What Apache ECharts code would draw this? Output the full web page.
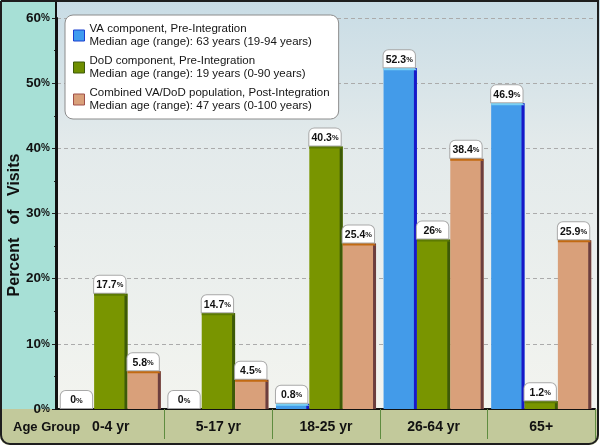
<!DOCTYPE html>
<html>
<head>
<meta charset="utf-8">
<script src="https://cdn.jsdelivr.net/npm/echarts@6/dist/echarts.min.js"></script>
<style>
  html, body { margin: 0; padding: 0; background: #fff; }
  #chart { width: 600px; height: 446px; }
</style>
</head>
<body>
<div id="chart"></div>
<script>
// age groups along the x axis
var ageGroups = ["0-4 yr", "5-17 yr", "18-25 yr", "26-64 yr", "65+"];
// percent of visits per component
var vaValues = [0, 0, 0.8, 52.3, 46.9];
var dodValues = [17.7, 14.7, 40.3, 26, 1.2];
var combinedValues = [5.8, 4.5, 25.4, 38.4, 25.9];
var seriesNames = [
  "VA component, Pre-Integration",
  "DoD component, Pre-Integration",
  "Combined VA/DoD population, Post-Integration"
];
var medianLines = [
  "Median age (range): 63 years (19-94 years)",
  "Median age (range): 19 years (0-90 years)",
  "Median age (range): 47 years (0-100 years)"
];
var yTicks = [0, 10, 20, 30, 40, 50, 60];

var FONT = "Liberation Sans";
var palette = [
  { body: "#439be9", edge: "#1818c8", cap: "#78d0f5", icon: "#3f9cf0", iconBorder: "#1a3fd0" },
  { body: "#799500", edge: "#3d5a08", cap: "#5d7b02", icon: "#6f8f00", iconBorder: "#3d5a08" },
  { body: "#d9a07a", edge: "#6c3e3e", cap: "#c26a12", icon: "#d9a07a", iconBorder: "#a0504a" }
];

var chart = echarts.init(document.getElementById("chart"), null, { renderer: "canvas" });

// bar with a dark right edge and a top cap, label box sitting on top
function makeRender(slot) {
  var c = palette[slot];
  return function (params, api) {
    var val = api.value(1);
    var base = api.coord([api.value(0), 0]);
    var top = api.coord([api.value(0), val]);
    var band = api.size([1, 0])[0];
    var w = band * 0.31;
    var x = base[0] - 1.5 * w + slot * w;
    var t = top[1];
    var h = base[1] - t;
    var kids = [];
    if (h > 0) {
      kids.push({ type: "rect", shape: { x: x, y: t, width: w, height: h }, style: { fill: c.body } });
      kids.push({ type: "rect", shape: { x: x + w - 3, y: t, width: 3, height: h }, style: { fill: c.edge } });
      kids.push({
        type: "polygon",
        shape: { points: [[x, t - 1], [x + w - 3, t - 1], [x + w, t + 2], [x, t + 2]] },
        style: { fill: c.cap }
      });
    }
    kids.push({
      type: "text",
      x: x + w / 2 - 1,
      y: t - 1,
      z2: 10,
      style: {
        text: "{v|" + val + "}{p|%}",
        align: "center",
        verticalAlign: "bottom",
        width: w - 8,
        backgroundColor: "#fff",
        borderColor: "#a8a8a8",
        borderWidth: 1,
        borderRadius: [5, 5, 0, 0],
        padding: [4, 3, 2, 3],
        rich: {
          v: { fontFamily: FONT, fontWeight: "bold", fontSize: 10.5, fill: "#111", align: "center" },
          p: { fontFamily: FONT, fontWeight: "bold", fontSize: 7.5, fill: "#111", align: "center" }
        }
      }
    });
    return { type: "group", children: kids };
  };
}

function toData(arr) {
  return arr.map(function (v, i) { return [i, v]; });
}

var allValues = [vaValues, dodValues, combinedValues];
var series = seriesNames.map(function (name, i) {
  return {
    name: name,
    type: "custom",
    renderItem: makeRender(i),
    clip: false,
    itemStyle: { color: palette[i].icon },
    encode: { x: 0, y: 1 },
    data: toData(allValues[i])
  };
});

var option = {
  animation: false,
  textStyle: { fontFamily: FONT },
  grid: { left: 57, right: 5, top: 18, bottom: 37 },
  legend: {
    orient: "vertical",
    left: 65,
    top: 15,
    padding: [7, 9, 6, 8],
    itemGap: 5,
    itemWidth: 11,
    itemHeight: 11,
    itemTextGap: 6,
    backgroundColor: "#fff",
    borderColor: "#8c8c8c",
    borderWidth: 1,
    borderRadius: 8,
    data: seriesNames.map(function (n, i) {
      return {
        name: n,
        icon: "rect",
        itemStyle: { color: palette[i].icon, borderColor: palette[i].iconBorder, borderWidth: 1 }
      };
    }),
    formatter: function (name) {
      return name + "\n" + medianLines[seriesNames.indexOf(name)];
    },
    textStyle: { fontFamily: FONT, fontSize: 11.5, color: "#151515", lineHeight: 13.5 }
  },
  xAxis: {
    type: "category",
    data: ageGroups,
    axisLine: { lineStyle: { color: "#111", width: 2 } },
    axisTick: {
      show: true,
      interval: function (i) { return i > 0; },
      length: 30,
      lineStyle: { color: "#5f8c40", width: 1 }
    },
    axisLabel: { margin: 11, fontFamily: FONT, fontWeight: "bold", fontSize: 14, color: "#111" },
    splitLine: { show: false }
  },
  yAxis: {
    type: "value",
    min: yTicks[0],
    max: yTicks[yTicks.length - 1],
    interval: 10,
    axisLine: { show: true, lineStyle: { color: "#111", width: 2 } },
    axisTick: { show: true, length: 5, lineStyle: { color: "#222" } },
    minorTick: { show: true, splitNumber: 2, length: 3, lineStyle: { color: "#222" } },
    axisLabel: {
      margin: 7,
      formatter: function (v) { return "{n|" + v + "}{p|%}"; },
      rich: {
        n: { fontFamily: FONT, fontWeight: "bold", fontSize: 13.5, color: "#111" },
        p: { fontFamily: FONT, fontWeight: "bold", fontSize: 10, color: "#111" }
      }
    },
    splitLine: { show: true, lineStyle: { color: "#ababab", type: [4, 3], width: 1 } }
  },
  graphic: [
    {
      type: "rect", z: -10, silent: true,
      shape: { x: 57, y: 0, width: 543, height: 410 },
      style: {
        fill: new echarts.graphic.LinearGradient(0, 0, 0, 1, [
          { offset: 0, color: "#c8dce5" },
          { offset: 0.35, color: "#e3eaeb" },
          { offset: 1, color: "#f3f4ef" }
        ])
      }
    },
    { type: "rect", z: -10, silent: true, shape: { x: 0, y: 0, width: 56, height: 410 }, style: { fill: "#a7e0d6" } },
    {
      type: "rect", z: -10, silent: true,
      shape: { x: 0, y: 409, width: 599, height: 36, r: [0, 0, 9, 9] },
      style: { fill: "#c2c99b" }
    },
    {
      type: "line", z: 50, silent: true,
      shape: { x1: 56, y1: 0, x2: 56, y2: 410 },
      style: { stroke: "#111", lineWidth: 2 }
    },
    {
      type: "text", z: 50, silent: true,
      x: 13, y: 427,
      style: { text: "Age Group", font: "bold 13px '" + FONT + "'", fill: "#111", verticalAlign: "middle" }
    },
    {
      type: "text", z: 50, silent: true,
      x: 15, y: 225, rotation: Math.PI / 2,
      style: {
        text: "Percent   of   Visits",
        font: "bold 16px '" + FONT + "'",
        fill: "#111", align: "center", verticalAlign: "middle"
      }
    },
    {
      type: "rect", z: 100, silent: true,
      shape: { x: 1, y: 1, width: 597, height: 443, r: [0, 0, 9, 9] },
      style: { fill: null, stroke: "#1e1e1e", lineWidth: 2 }
    }
  ],
  series: series
};

chart.setOption(option);
</script>
</body>
</html>
